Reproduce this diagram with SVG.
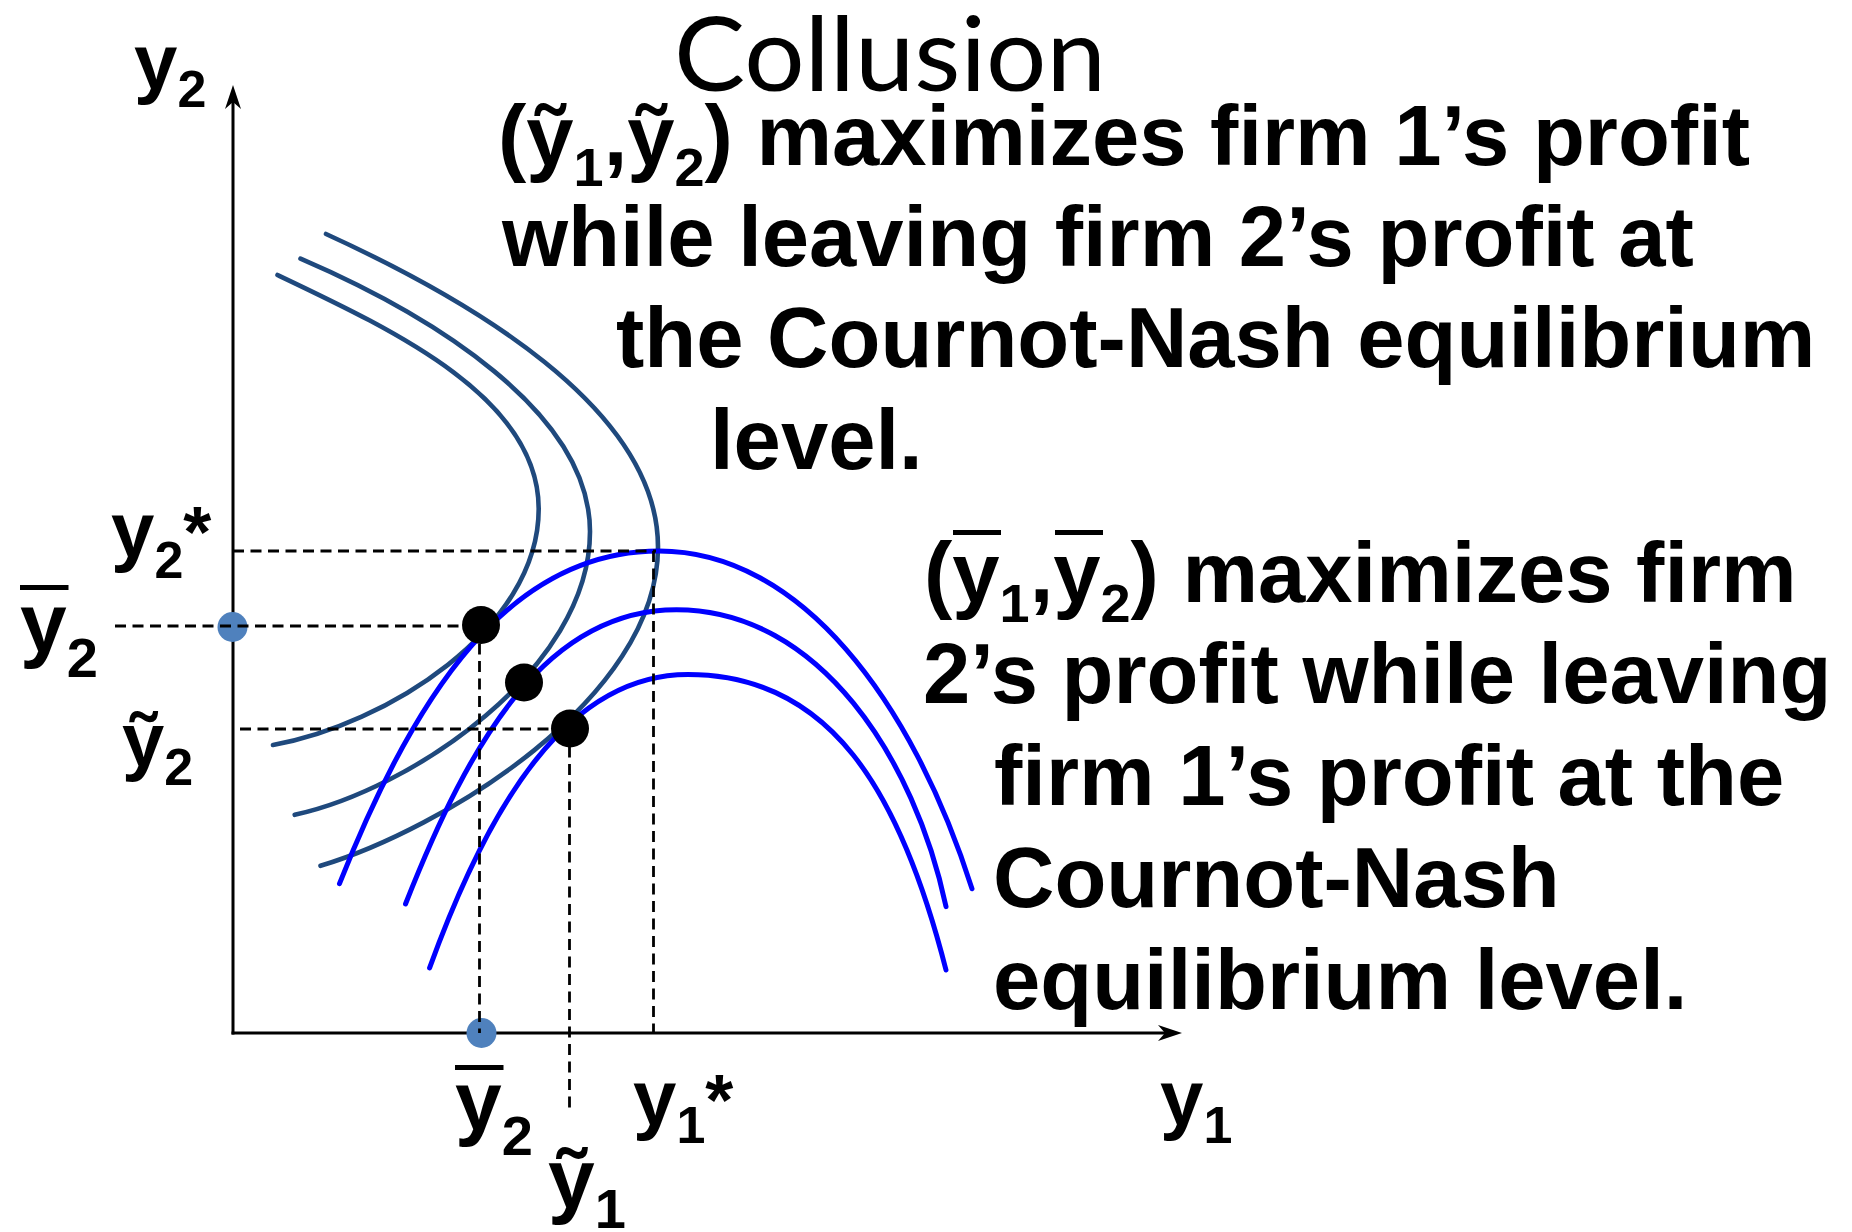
<svg xmlns="http://www.w3.org/2000/svg" width="1852" height="1232" viewBox="0 0 1852 1232">
<defs>
<style>
.t{font-family:"Liberation Sans",Arial,sans-serif;font-weight:bold;font-size:85px;fill:#000}
.sub{font-size:54px}
.lab{font-family:"Liberation Sans",Arial,sans-serif;font-weight:bold;fill:#000}
.iso1{fill:none;stroke:#1F497D;stroke-width:4.6;stroke-linecap:round}
.iso2{fill:none;stroke:#0000FF;stroke-width:5;stroke-linecap:round}
.dash{fill:none;stroke:#000;stroke-width:2.8;stroke-dasharray:11 6.5}
.axis{fill:none;stroke:#000;stroke-width:3}
.bar{stroke:#000;stroke-width:5}
.pt{fill:#000}
.axpt{fill:#4F81BD}
</style>
<marker id="arrow" markerUnits="userSpaceOnUse" viewBox="0 0 24 16" markerWidth="24" markerHeight="16" refX="7" refY="8" orient="auto">
<path d="M0,0 L24,8 L0,16 L7,8 Z" fill="#000"/>
</marker>
</defs>
<rect width="1852" height="1232" fill="#fff"/>

<g id="title">
<text x="674" y="91" font-family="Lato, 'Open Sans', sans-serif" font-size="102" textLength="432" lengthAdjust="spacingAndGlyphs" fill="#000">Collusion</text>
</g>

<g id="axes">
<line class="axis" x1="233" y1="1034.5" x2="233" y2="102" marker-end="url(#arrow)"/>
<line class="axis" x1="231.5" y1="1033" x2="1165" y2="1033" marker-end="url(#arrow)"/>
</g>

<g id="firm1-isoprofit">
<path class="iso1" d="M277.5,275 C397.5,332 538.7,398.7 538.7,508.7 C538.7,630 385,725 273,745"/>
<path class="iso1" d="M300.5,258.7 C430.5,314.7 590,411.6 590,531.6 C590,670 410,790 294.7,814.8"/>
<path class="iso1" d="M326,234 C466,298 658,407 658,547 C658,700 440,830 320.5,865.8"/>
</g>

<g id="firm2-isoprofit">
<path class="iso2" d="M339.5,883.7 C414.5,693.7 509,551 659,551 C800,551 912,700 972,888.8"/>
<path class="iso2" d="M405.5,904 C470.5,739 546.5,609.7 676.5,609.7 C820,609.7 915,760 946,906.6"/>
<path class="iso2" d="M429.6,967.9 C489.6,802.9 568,674.5 688,674.5 C830,674.5 900,790 946,970"/>
</g>

<g id="axis-points">
<circle class="axpt" cx="232.5" cy="627" r="15"/>
<circle class="axpt" cx="481.5" cy="1033" r="15"/>
</g>

<g id="guides">
<line class="dash" x1="233" y1="551" x2="656" y2="551"/>
<line class="dash" x1="653.5" y1="551" x2="653.5" y2="1033"/>
<line class="dash" x1="115" y1="626" x2="481" y2="626"/>
<line class="dash" x1="479.5" y1="626" x2="479.5" y2="1033"/>
<line class="dash" x1="240" y1="729" x2="570" y2="729"/>
<line class="dash" x1="569.5" y1="729" x2="569.5" y2="1114"/>
</g>

<g id="equilibria">
<circle class="pt" cx="481" cy="625" r="19"/>
<circle class="pt" cx="524" cy="682.5" r="19"/>
<circle class="pt" cx="570" cy="728.5" r="19"/>
</g>

<g id="axis-labels">
<text class="lab" x="134" y="89" font-size="78">y<tspan font-size="52" dy="18">2</tspan></text>
<text class="lab" x="111" y="557" font-size="78">y<tspan font-size="52" dy="21">2</tspan><tspan font-size="72" dy="-21">*</tspan></text>
<g id="label-ybar2-left">
<line class="bar" x1="20" y1="587.5" x2="68.5" y2="587.5"/>
<text class="lab" x="20" y="652" font-size="84">y<tspan font-size="56" dy="25">2</tspan></text>
</g>
<text class="lab" x="122" y="766" font-size="76">ỹ<tspan font-size="52" dy="19">2</tspan></text>
<g id="label-ybar2-bottom">
<line class="bar" x1="455" y1="1067.5" x2="503.5" y2="1067.5"/>
<text class="lab" x="455" y="1130" font-size="84">y<tspan font-size="56" dy="25">2</tspan></text>
</g>
<text class="lab" x="548" y="1208" font-size="84">ỹ<tspan font-size="56" dy="20">1</tspan></text>
<text class="lab" x="633" y="1125" font-size="78">y<tspan font-size="52" dy="18">1</tspan><tspan font-size="72" dy="-18">*</tspan></text>
<text class="lab" x="1160" y="1125" font-size="78">y<tspan font-size="52" dy="18">1</tspan></text>
</g>

<g id="text-firm1">
<text class="t" x="498" y="165">(ỹ<tspan class="sub" dy="21">1</tspan><tspan dy="-21">,ỹ</tspan><tspan class="sub" dy="21">2</tspan><tspan dy="-21">) maximizes firm 1’s profit</tspan></text>
<text class="t" x="502" y="266">while leaving firm 2’s profit at</text>
<text class="t" x="616" y="367">the Cournot-Nash equilibrium</text>
<text class="t" x="710" y="469">level.</text>
</g>

<g id="text-firm2">
<line class="bar" x1="953" y1="532.5" x2="1001" y2="532.5"/>
<line class="bar" x1="1055" y1="532.5" x2="1103" y2="532.5"/>
<text class="t" x="924" y="602">(y<tspan class="sub" dy="20">1</tspan><tspan dy="-20">,y</tspan><tspan class="sub" dy="20">2</tspan><tspan dy="-20">) maximizes firm</tspan></text>
<text class="t" x="923" y="703">2’s profit while leaving</text>
<text class="t" x="994" y="805">firm 1’s profit at the</text>
<text class="t" x="993" y="907">Cournot-Nash</text>
<text class="t" x="993" y="1009">equilibrium level.</text>
</g>
</svg>
